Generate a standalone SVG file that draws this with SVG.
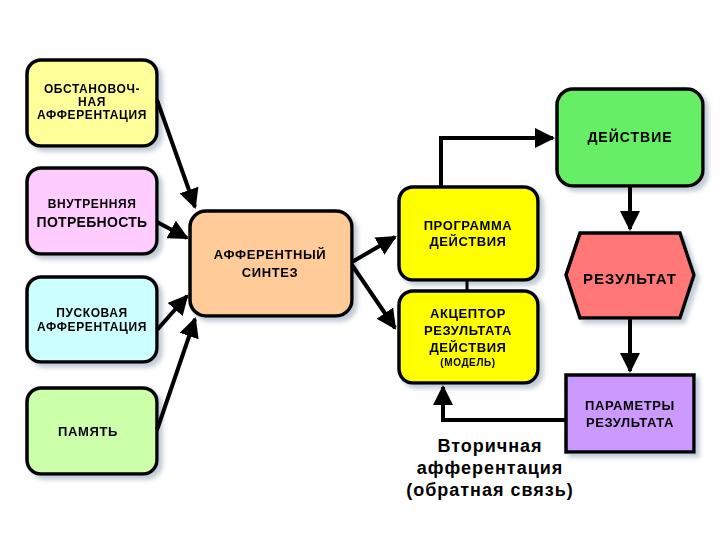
<svg xmlns="http://www.w3.org/2000/svg" width="720" height="540" viewBox="0 0 720 540">
<style>
.b{stroke:#000;stroke-width:3.5}
.t{font-family:"Liberation Sans",Arial,sans-serif;font-weight:bold;font-size:12px;text-anchor:middle;fill:#000;letter-spacing:0.6px}
.c{fill:none;stroke:#000;stroke-width:4}
</style>
<defs>
<marker id="a" viewBox="0 0 10 10" refX="9" refY="5" markerWidth="5" markerHeight="5" orient="auto" markerUnits="strokeWidth"><path d="M0,0L10,5L0,10z" fill="#000"/></marker>
<filter id="s" x="-10%" y="-10%" width="130%" height="130%"><feDropShadow dx="4" dy="4" stdDeviation="2" flood-color="#9ab" flood-opacity="0.6"/></filter>
</defs>
<rect width="720" height="540" fill="#fff"/>
<g id="n1" filter="url(#s)"><rect class="b" x="27" y="60" width="130" height="86" rx="14" fill="#ffff99"/>
<text class="t" x="92" y="93">ОБСТАНОВОЧ-</text><text class="t" x="92" y="106">НАЯ</text><text class="t" x="92" y="119">АФФЕРЕНТАЦИЯ</text></g>
<g id="n2" filter="url(#s)"><rect class="b" x="27" y="168" width="130" height="86" rx="14" fill="#ffccff"/>
<text class="t" x="92" y="208">ВНУТРЕННЯЯ</text><text class="t" x="92" y="227" style="font-size:14px;letter-spacing:0.3px">ПОТРЕБНОСТЬ</text></g>
<g id="n3" filter="url(#s)"><rect class="b" x="27" y="277" width="130" height="85" rx="14" fill="#ccffff"/>
<text class="t" x="92" y="317">ПУСКОВАЯ</text><text class="t" x="92" y="331">АФФЕРЕНТАЦИЯ</text></g>
<g id="n4" filter="url(#s)"><rect class="b" x="27" y="388" width="130" height="86" rx="14" fill="#ccffaa"/>
<text class="t" x="88" y="436" style="font-size:13px">ПАМЯТЬ</text></g>
<g id="n5" filter="url(#s)"><rect class="b" x="190" y="211" width="162" height="105" rx="16" fill="#ffcc99"/>
<text class="t" x="270" y="259" style="font-size:13px">АФФЕРЕНТНЫЙ</text><text class="t" x="270" y="277" style="font-size:13px">СИНТЕЗ</text></g>
<g id="n6" filter="url(#s)"><rect class="b" x="399" y="187" width="139" height="93" rx="14" fill="#ffff00"/>
<text class="t" x="468" y="230" style="font-size:13px">ПРОГРАММА</text><text class="t" x="468" y="246" style="font-size:13px">ДЕЙСТВИЯ</text></g>
<g id="n7" filter="url(#s)"><rect class="b" x="399" y="291" width="139" height="92" rx="14" fill="#ffff00"/>
<text class="t" x="468" y="318" style="font-size:13px">АКЦЕПТОР</text><text class="t" x="468" y="335" style="font-size:13px">РЕЗУЛЬТАТА</text><text class="t" x="468" y="352" style="font-size:13px">ДЕЙСТВИЯ</text><text class="t" x="468" y="366" style="font-size:10px">(МОДЕЛЬ)</text></g>
<g id="n8" filter="url(#s)"><rect class="b" x="557" y="89" width="146" height="97" rx="16" fill="#66ee66"/>
<text class="t" x="630" y="142" style="font-size:14px;letter-spacing:1px">ДЕЙСТВИЕ</text></g>
<g id="n9" filter="url(#s)"><polygon class="b" points="580,233 680,233 694,275 680,318 580,318 566,275" fill="#ff7777"/>
<text class="t" x="630" y="284" style="font-size:15px;letter-spacing:1px">РЕЗУЛЬТАТ</text></g>
<g id="n10" filter="url(#s)"><rect class="b" x="566" y="375" width="128" height="77" fill="#cc99ff"/>
<text class="t" x="630" y="410" style="font-size:13px">ПАРАМЕТРЫ</text><text class="t" x="630" y="427" style="font-size:13px">РЕЗУЛЬТАТА</text></g>
<g id="connectors">
<path class="c" d="M157,100L195,207" marker-end="url(#a)"/>
<path class="c" d="M157,222L187,238" marker-end="url(#a)"/>
<path class="c" d="M157,330L187,296" marker-end="url(#a)"/>
<path class="c" d="M157,430L195,319" marker-end="url(#a)"/>
<path class="c" d="M352,262L395,237" marker-end="url(#a)"/>
<path class="c" d="M352,265L395,328" marker-end="url(#a)"/>
<path class="c" d="M441,187V138H553" marker-end="url(#a)"/>
<path class="c" d="M630,186V229" marker-end="url(#a)"/>
<path class="c" d="M630,318V371" marker-end="url(#a)"/>
<path class="c" d="M566,420H443V387" marker-end="url(#a)"/>
<path d="M467,280V291" stroke="#000" stroke-width="3"/>
</g>
<g id="label" font-family="'Liberation Sans',Arial,sans-serif" font-weight="bold" font-size="18" letter-spacing="1" text-anchor="middle">
<text x="490" y="452">Вторичная</text><text x="490" y="474">афферентация</text><text x="490" y="496">(обратная связь)</text></g>
</svg>
